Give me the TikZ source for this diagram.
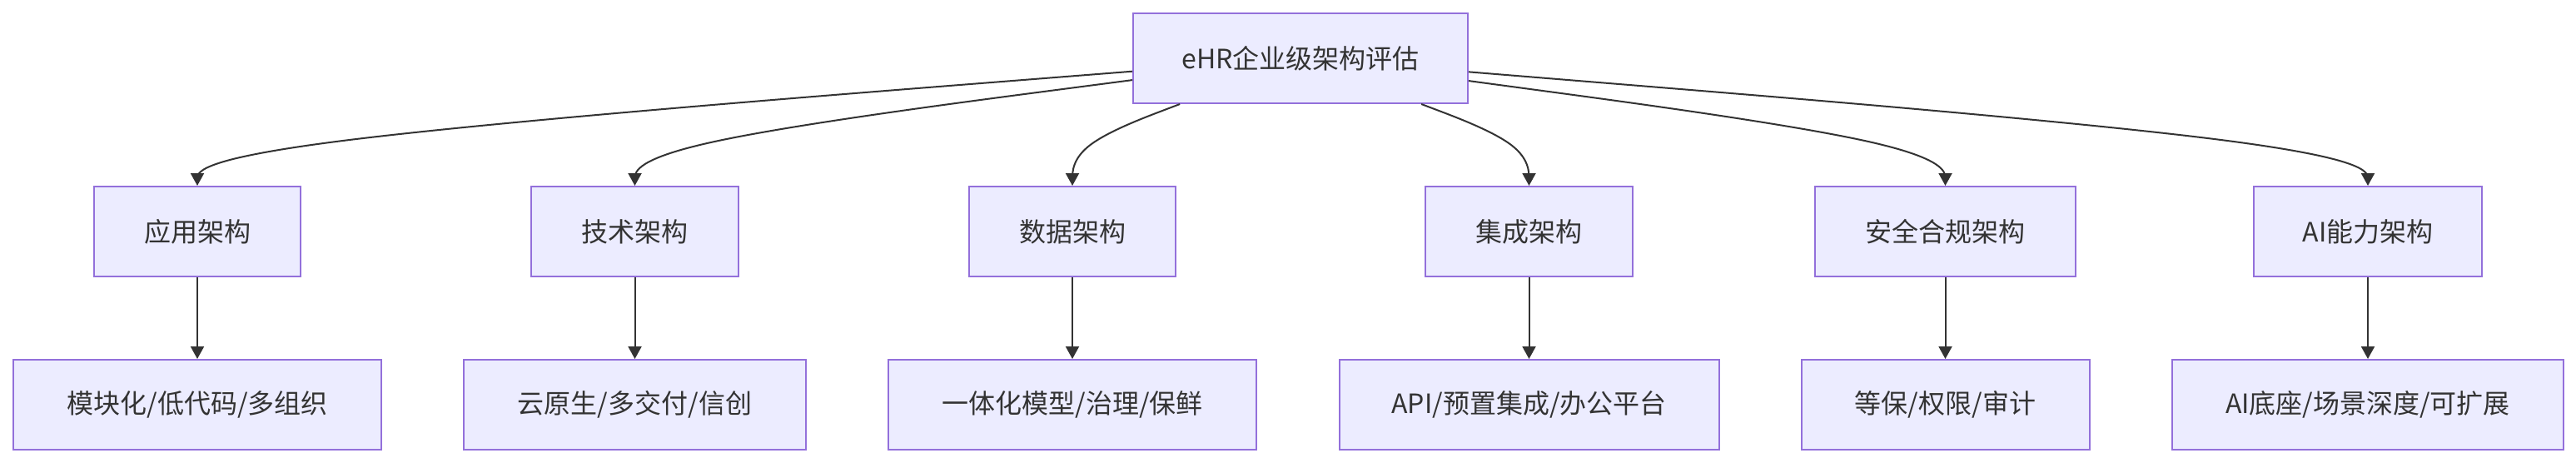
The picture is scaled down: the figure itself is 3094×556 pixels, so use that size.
\documentclass[tikz,border=0pt]{standalone}
\usepackage{fontspec}
\setmainfont{Noto Sans CJK SC}
\usetikzlibrary{arrows.meta,calc}
\definecolor{nodefill}{HTML}{ECECFF}
\definecolor{nodeline}{HTML}{9370DB}
\definecolor{ink}{HTML}{333333}
\tikzset{
  box/.style={draw=nodeline, fill=nodefill, line width=1pt, minimum height=54pt,
    inner sep=0pt, text=ink, font=\fontsize{16pt}{19pt}\selectfont},
  arr/.style={draw=ink, line width=1pt, -{Triangle[width=8pt,length=7.5pt]}},
}
\newcommand\topedge[1]{%
  \coordinate (dm) at (#1.north |- dumrow);
  \path (top) -- (dm) coordinate[pos=0] (st);
  \draw[arr] (st) -- ($(st)!0.16667!(dm)$)
    .. controls ($(st)!0.33333!(dm)$) and ($(st)!0.66667!(dm)$)
    .. ($0.16667*(st)+0.66667*(dm)+0.16667*(#1.north)$)
    .. controls ($0.66667*(dm)+0.33333*(#1.north)$) and ($0.33333*(dm)+0.66667*(#1.north)$)
    .. ($0.16667*(dm)+0.83333*(#1.north)$) -- (#1.north);
}
\begin{document}
\begin{tikzpicture}[x=0.5pt,y=-0.5pt]
\useasboundingbox (0,0) rectangle (3094,556);
\coordinate (dumrow) at (0,174);
\node[box, minimum width=201pt] (top) at (1562,70) {eHR企业级架构评估};

\node[box, minimum width=124pt] (a1) at (237,278) {应用架构};
\node[box, minimum width=124.5pt] (a2) at (762.5,278) {技术架构};
\node[box, minimum width=124pt] (a3) at (1288,278) {数据架构};
\node[box, minimum width=124.5pt] (a4) at (1836.5,278) {集成架构};
\node[box, minimum width=156.5pt] (a5) at (2336.5,278) {安全合规架构};
\node[box, minimum width=137pt] (a6) at (2844,278) {AI能力架构};

\node[box, minimum width=221pt] (b1) at (237,486) {模块化/低代码/多组织};
\node[box, minimum width=205.5pt] (b2) at (762.5,486) {云原生/多交付/信创};
\node[box, minimum width=221pt] (b3) at (1288,486) {一体化模型/治理/保鲜};
\node[box, minimum width=228pt] (b4) at (1836.5,486) {API/预置集成/办公平台};
\node[box, minimum width=173pt] (b5) at (2336.5,486) {等保/权限/审计};
\node[box, minimum width=235pt] (b6) at (2844,486) {AI底座/场景深度/可扩展};

\topedge{a1}
\topedge{a2}
\topedge{a3}
\topedge{a4}
\topedge{a5}
\topedge{a6}

\foreach \i in {1,...,6} {
  \draw[arr] (a\i.south) -- (b\i.north);
}
\end{tikzpicture}
\end{document}
